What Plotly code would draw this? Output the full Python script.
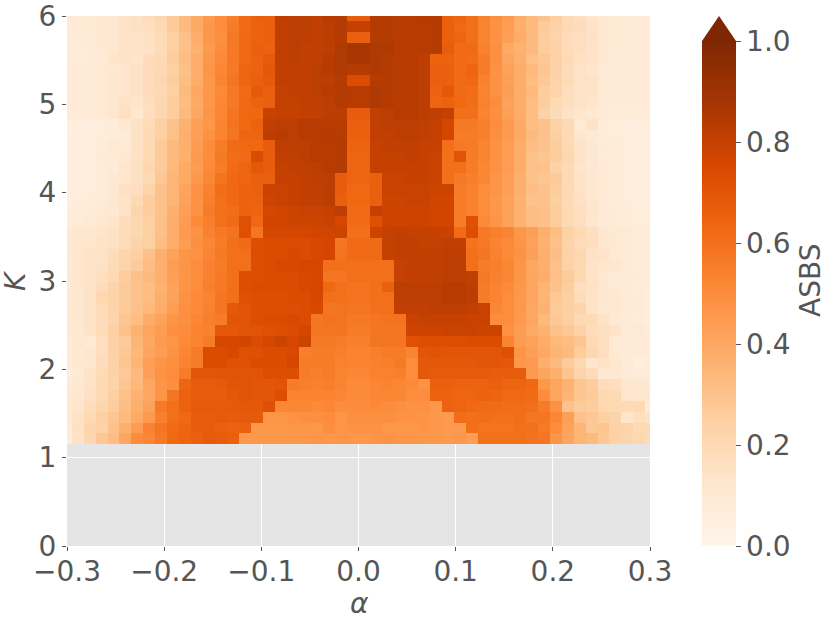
import plotly.graph_objects as go

W, H = 830, 623
PLOT_L, PLOT_R, PLOT_T, PLOT_B = 67, 650, 16, 546

alpha_step = 0.0123
K_step = 0.12287
K_bottom = 1.151

# ASBS x 100, listed from K = 6 (top) down to K = 1.15; each row runs alpha = -0.3 .. 0.3
L00=[10,10,10,11,12,14,16,18,21,27,33,39,45,50,55,62,66,66,82,82,82,81,83,84]; C00=67; R00=[84,84,83,83,84,84,66,64,60,54,49,45,38,33,30,25,19,17,13,11,10,9,9,9]
L01=[9,9,10,11,12,14,16,17,20,27,33,39,46,50,56,62,65,66,81,82,82,81,82,84]; C01=80; R01=[84,84,83,83,83,84,66,63,60,53,48,44,37,33,27,24,20,18,14,11,10,9,9,9]
L02=[9,9,10,11,12,14,14,16,19,25,31,38,46,49,57,63,65,66,81,82,82,81,82,84]; C02=66; R02=[84,84,83,83,83,84,66,64,60,53,48,43,38,33,26,23,18,17,15,11,10,9,9,9]
L03=[8,8,9,10,11,14,14,15,19,25,31,36,45,50,57,63,66,65,81,82,81,81,82,85]; C03=87; R03=[85,85,83,83,83,84,67,62,62,54,49,39,36,33,26,24,18,17,14,11,9,9,9,9]
L04=[8,8,9,9,13,14,13,18,20,26,32,38,46,51,57,63,65,68,81,82,81,81,83,85]; C04=87; R04=[85,84,83,83,82,65,65,62,61,56,49,41,37,31,28,24,19,16,14,11,9,9,9,9]
L05=[9,9,9,10,11,13,15,18,20,25,31,38,47,52,57,64,65,69,81,81,81,82,83,85]; C05=84; R05=[85,84,83,83,82,66,66,62,64,56,48,42,38,34,29,24,18,15,13,10,9,9,9,9]
L06=[9,9,9,10,12,13,15,18,21,26,32,38,46,53,58,64,66,68,81,81,81,82,82,84]; C06=74; R06=[84,84,83,83,82,66,66,62,63,54,48,43,38,32,28,23,19,15,14,10,9,9,9,9]
L07=[9,9,9,10,12,13,15,18,20,25,33,40,46,51,57,62,68,66,80,81,81,82,83,84]; C07=83; R07=[85,84,83,83,82,65,69,62,61,53,48,44,38,34,26,23,17,15,14,10,9,9,9,9]
L08=[9,9,9,10,12,15,13,17,21,26,32,39,46,52,57,63,65,66,80,80,81,81,82,84]; C08=83; R08=[85,84,83,83,82,64,65,63,61,54,50,42,38,32,26,20,17,14,13,10,9,9,9,9]
L09=[9,9,9,10,13,16,11,17,21,26,33,40,47,52,58,63,63,79,80,80,81,81,82,82]; C09=67; R09=[81,82,83,83,82,81,80,60,60,53,49,43,38,32,24,19,14,13,10,9,8,8,8,8]
L10=[5,6,6,7,8,11,15,19,25,30,36,43,46,53,59,63,65,81,82,82,83,83,83,83]; C10=66; R10=[81,82,82,82,81,80,76,57,57,55,50,45,39,32,30,24,20,10,15,8,7,6,6,6]
L11=[5,6,6,7,8,9,15,20,25,31,37,43,48,53,58,64,64,82,83,82,83,83,84,83]; C11=66; R11=[81,81,82,82,81,80,76,56,56,55,49,45,39,33,30,25,20,12,10,8,7,7,6,6]
L12=[6,6,7,8,10,10,16,20,27,33,37,44,50,56,62,63,63,67,82,82,82,83,83,84]; C12=65; R12=[80,81,81,81,80,80,60,57,56,53,48,44,38,32,30,26,20,14,11,9,8,7,6,6]
L13=[6,6,7,9,10,11,15,20,27,33,37,45,50,57,61,62,74,67,81,81,82,83,83,84]; C13=64; R13=[80,80,80,81,80,79,60,71,56,53,48,44,38,31,29,26,21,14,11,8,8,7,6,6]
L14=[6,6,7,8,9,13,16,21,27,34,39,44,51,56,62,64,69,67,80,81,81,82,83,84]; C14=64; R14=[80,80,80,80,80,79,60,60,56,52,48,44,38,31,30,24,20,13,11,9,8,7,6,6]
L15=[6,6,7,8,11,13,16,20,28,35,39,46,52,59,63,64,66,66,80,80,81,82,82,67]; C15=64; R15=[66,79,79,80,80,79,60,57,55,52,47,43,37,31,29,27,20,14,11,9,8,7,6,6]
L16=[6,6,7,8,11,16,17,23,30,35,41,48,54,61,63,65,66,79,79,80,81,81,82,67]; C16=63; R16=[66,79,79,79,79,78,78,56,54,50,47,43,37,32,30,26,20,15,12,10,8,7,7,6]
L17=[6,7,8,9,12,14,20,26,30,35,42,48,55,60,63,65,65,78,79,80,81,81,82,66]; C17=63; R17=[66,78,78,79,79,77,77,56,54,50,46,42,36,30,30,25,20,16,12,10,8,7,7,6]
L18=[7,8,9,10,11,15,22,26,30,37,43,48,56,60,61,65,64,76,77,78,79,79,80,82]; C18=62; R18=[80,78,78,78,78,77,77,56,54,50,46,42,36,32,31,26,20,17,13,10,9,8,7,7]
L19=[7,8,10,11,13,18,21,25,31,38,44,51,55,60,62,72,63,77,77,78,78,78,79,76]; C19=62; R19=[72,78,78,78,78,77,77,56,72,51,47,42,36,32,31,26,20,17,12,9,9,8,7,7]
L20=[10,12,12,13,15,18,21,25,31,38,45,48,54,57,59,72,58,76,76,76,76,77,77,78]; C20=60; R20=[78,80,81,80,80,80,79,62,73,57,55,53,46,43,37,32,24,20,17,12,10,10,8,8]
L21=[10,12,13,14,16,19,23,25,32,38,44,49,52,56,60,62,73,74,74,74,74,75,76,58]; C21=62; R21=[62,80,81,81,80,80,81,81,59,57,53,51,47,42,36,31,23,18,17,12,10,9,8,8]
L22=[10,13,14,15,18,22,25,30,37,42,47,48,53,57,60,60,73,74,74,75,74,75,76,59]; C22=62; R22=[62,80,81,81,81,81,82,82,60,58,54,51,48,43,37,32,24,21,15,14,10,9,8,8]
L23=[9,13,14,15,19,23,27,32,37,44,47,50,54,56,60,60,73,74,75,75,76,76,60,60]; C23=60; R23=[60,60,80,81,81,81,82,82,60,56,55,52,47,40,37,30,24,21,14,13,12,9,8,8]
L24=[10,13,15,17,20,26,31,33,37,43,47,50,54,57,60,73,73,74,74,74,75,76,58,58]; C24=60; R24=[60,60,80,81,81,81,82,82,81,57,54,52,47,41,38,31,27,21,14,11,9,9,9,8]
L25=[10,12,14,18,23,27,30,32,36,42,47,50,55,57,60,73,74,74,74,74,75,76,63,60]; C25=59; R25=[60,66,82,82,82,82,83,83,82,56,53,51,46,41,35,30,26,17,15,12,10,9,8,7]
L26=[10,12,15,21,23,27,30,32,37,42,48,51,53,58,60,72,73,73,73,74,74,76,60,60]; C26=59; R26=[60,60,82,82,82,82,83,83,82,56,53,50,46,41,35,28,25,18,14,12,11,9,9,7]
L27=[11,12,15,19,23,27,31,34,38,44,49,51,54,58,69,71,73,73,73,73,74,75,58,59]; C27=58; R27=[60,60,81,81,81,82,82,82,81,79,52,50,46,40,36,27,25,22,14,11,11,9,9,7]
L28=[11,12,15,18,22,29,32,38,42,47,49,52,55,56,70,71,73,74,74,75,74,58,59,59]; C28=57; R28=[58,59,59,79,80,80,80,80,79,79,50,50,45,40,33,28,25,20,19,14,10,9,8,6]
L29=[10,11,14,19,25,30,36,41,44,49,50,53,54,69,69,71,71,72,73,74,76,58,58,59]; C29=56; R29=[58,58,58,78,78,78,79,79,79,78,78,48,44,39,36,31,28,24,18,17,14,10,10,8]
L30=[9,11,10,17,24,27,35,40,45,47,51,53,56,76,76,77,74,76,78,76,78,57,57,56]; C30=55; R30=[58,58,58,72,73,73,73,73,74,74,74,53,44,42,38,34,32,29,20,17,10,9,9,9]
L31=[9,10,12,17,24,28,34,41,44,48,52,56,74,74,75,72,72,74,74,75,55,56,56,55]; C31=53; R31=[55,56,56,53,70,71,70,70,70,70,70,72,47,43,40,35,33,26,21,17,10,9,9,9]
L32=[9,11,12,18,24,29,35,43,47,49,53,56,74,74,72,72,74,74,74,76,56,56,56,54]; C32=53; R32=[54,55,57,50,69,69,69,69,69,70,70,69,46,45,37,33,27,21,13,15,12,9,6,8]
L33=[7,10,14,19,24,28,33,43,48,50,56,70,70,71,71,71,71,73,73,73,56,55,56,53]; C33=52; R33=[54,54,55,50,69,68,68,68,68,68,67,67,67,45,41,37,29,23,18,11,11,9,8,8]
L34=[9,11,14,20,23,29,34,40,47,49,64,67,67,68,70,71,70,70,71,56,55,54,55,53]; C34=51; R34=[52,53,52,51,48,66,66,65,65,65,66,64,64,63,46,41,36,29,26,18,17,12,12,11]
L35=[10,12,16,20,25,31,36,40,47,58,65,67,67,67,69,71,70,70,73,53,53,53,53,52]; C35=51; R35=[52,52,52,50,50,65,65,64,64,65,64,63,63,62,50,41,35,29,27,21,20,13,13,12]
L36=[11,13,18,22,26,32,37,42,57,60,65,68,68,68,68,69,69,72,52,52,52,51,52,50]; C36=50; R36=[51,50,49,48,48,46,65,64,63,62,62,61,61,60,56,48,30,27,26,21,20,19,20,9]
L37=[11,15,20,25,29,33,39,45,55,60,63,67,67,68,67,68,68,47,47,48,49,49,50,47]; C37=49; R37=[49,49,48,48,47,46,45,61,60,61,60,60,61,58,58,52,43,30,28,25,23,13,17,14]
L38=[9,16,22,24,30,37,44,54,58,62,64,67,67,66,65,66,46,46,46,47,47,46,49,47]; C38=48; R38=[48,46,46,46,47,46,45,45,60,59,59,59,60,60,57,50,42,35,28,29,24,23,20,20]
L39=[8,14,21,28,32,40,50,52,57,63,64,66,68,67,66,46,46,46,46,46,46,47,46,47]; C39=46; R39=[47,48,47,47,46,46,45,46,44,60,60,60,60,59,58,47,41,35,33,28,24,22,21,19]

left = [L00,L01,L02,L03,L04,L05,L06,L07,L08,L09,L10,L11,L12,L13,L14,L15,L16,L17,L18,L19,
        L20,L21,L22,L23,L24,L25,L26,L27,L28,L29,L30,L31,L32,L33,L34,L35,L36,L37,L38,L39]
centre = [C00,C01,C02,C03,C04,C05,C06,C07,C08,C09,C10,C11,C12,C13,C14,C15,C16,C17,C18,C19,
          C20,C21,C22,C23,C24,C25,C26,C27,C28,C29,C30,C31,C32,C33,C34,C35,C36,C37,C38,C39]
right = [R00,R01,R02,R03,R04,R05,R06,R07,R08,R09,R10,R11,R12,R13,R14,R15,R16,R17,R18,R19,
         R20,R21,R22,R23,R24,R25,R26,R27,R28,R29,R30,R31,R32,R33,R34,R35,R36,R37,R38,R39]

for a, b in zip(left, right):
    assert len(a) == 24 and len(b) == 24

z = [[v / 100 for v in a + [c] + b] for a, c, b in zip(left, centre, right)][::-1]

alpha_edges = ([-0.3] + [-k * alpha_step for k in range(24, 0, -1)]
               + [k * alpha_step for k in range(1, 25)] + [0.3])
K_edges = [K_bottom + i * K_step for i in range(40)] + [6.0]

oranges = [[0.0, "#fff5eb"], [0.125, "#fee6ce"], [0.25, "#fdd0a2"], [0.375, "#fdae6b"],
           [0.5, "#fd8d3c"], [0.625, "#f16913"], [0.75, "#d94801"], [0.875, "#a63603"],
           [1.0, "#7f2704"]]

TXT = "#555555"
FS = 28
FONT = "DejaVu Sans"

CB_L, CB_R, CB_T, CB_TIP = 702, 736, 41, 16

fig = go.Figure(go.Heatmap(
    x=alpha_edges, y=K_edges, z=z, zmin=0, zmax=1, colorscale=oranges,
    colorbar=dict(
        x=CB_L / W, xanchor="left", xpad=0, ypad=0,
        y=1 - PLOT_B / H, yanchor="bottom",
        thickness=CB_R - CB_L, thicknessmode="pixels",
        len=PLOT_B - CB_T, lenmode="pixels",
        outlinewidth=0, tickmode="array",
        tickvals=[0, 0.2, 0.4, 0.6, 0.8, 1.0],
        ticktext=["0.0", "0.2", "0.4", "0.6", "0.8", "1.0"],
        ticks="outside", ticklen=5, tickwidth=1, tickcolor=TXT,
        tickfont=dict(family=FONT, size=FS, color=TXT),
    ),
))

fig.update_layout(
    width=W, height=H, autosize=False,
    margin=dict(l=0, r=0, t=0, b=0),
    paper_bgcolor="white", plot_bgcolor="#E5E5E5",
    font=dict(family=FONT, size=FS, color=TXT),
    showlegend=False,
    xaxis=dict(
        domain=[PLOT_L / W, PLOT_R / W], range=[-0.3, 0.3],
        tickvals=[-0.3, -0.2, -0.1, 0.0, 0.1, 0.2, 0.3], tickformat=".1f",
        ticks="outside", ticklen=4, tickwidth=1, tickcolor=TXT,
        showgrid=True, gridcolor="white", gridwidth=1.2, zeroline=False, showline=False,
        tickfont=dict(family=FONT, size=FS, color=TXT), automargin=False,
        ticklabeloverflow="allow", ticklabelstandoff=-4,
    ),
    yaxis=dict(
        domain=[1 - PLOT_B / H, 1 - PLOT_T / H], range=[0, 6],
        tickvals=[0, 1, 2, 3, 4, 5, 6],
        ticks="outside", ticklen=4, tickwidth=1, tickcolor=TXT,
        showgrid=True, gridcolor="white", gridwidth=1.2, zeroline=False, showline=False,
        tickfont=dict(family=FONT, size=FS, color=TXT), automargin=False,
        ticklabeloverflow="allow",
    ),
    shapes=[dict(
        type="path", xref="paper", yref="paper",
        path=(f"M {CB_L / W} {1 - CB_T / H} L {(CB_L + CB_R) / 2 / W} {1 - CB_TIP / H} "
              f"L {CB_R / W} {1 - CB_T / H} Z"),
        fillcolor="#7f2704", line=dict(width=0),
    )],
    annotations=[
        dict(text="<i>α</i>", xref="paper", yref="paper", x=359 / W, y=1 - 603 / H,
             showarrow=False, xanchor="center", yanchor="middle",
             font=dict(family=FONT, size=FS, color=TXT)),
        dict(text="<i>K</i>", xref="paper", yref="paper", x=15 / W, y=1 - 281 / H,
             showarrow=False, textangle=-90, xanchor="center", yanchor="middle",
             font=dict(family=FONT, size=FS, color=TXT)),
        dict(text="ASBS", xref="paper", yref="paper", x=810 / W, y=1 - 281 / H,
             showarrow=False, textangle=-90, xanchor="center", yanchor="middle",
             font=dict(family=FONT, size=FS, color=TXT)),
    ],
)

fig.write_html("out.html", config={"displayModeBar": False},
               post_script="document.body.style.margin='0';document.documentElement.style.overflow='hidden';")
